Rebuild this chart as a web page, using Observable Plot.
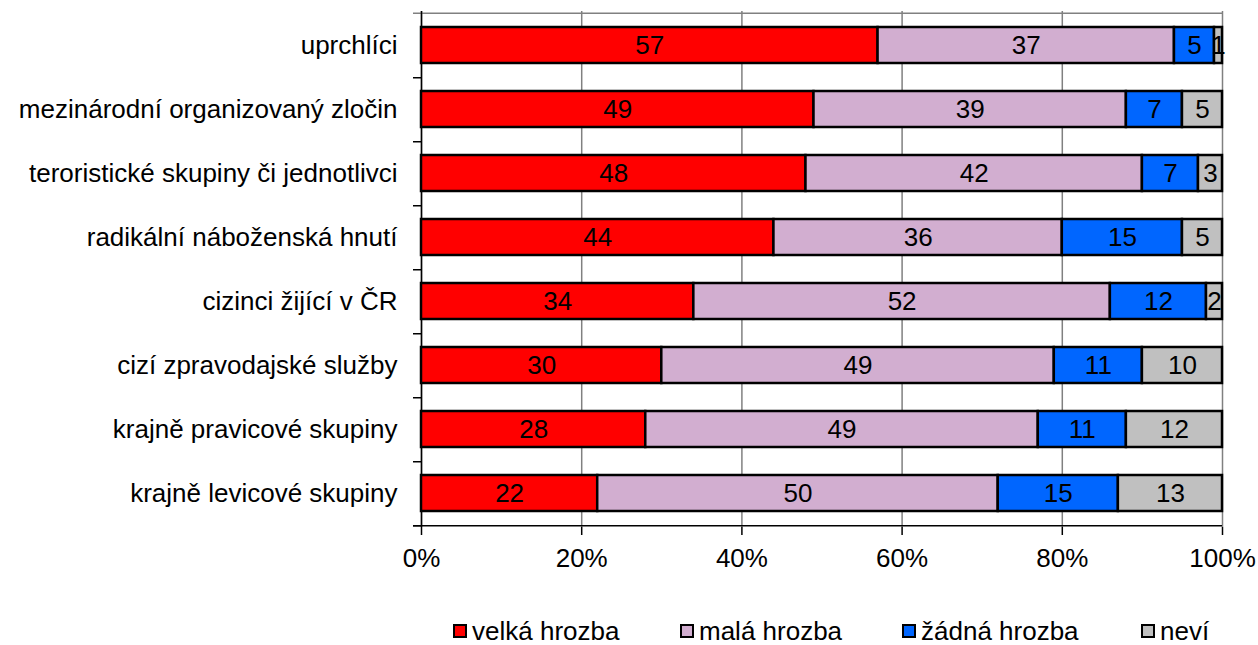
<!DOCTYPE html>
<html><head><meta charset="utf-8">
<script src="https://cdn.jsdelivr.net/npm/d3@7"></script>
<script src="https://cdn.jsdelivr.net/npm/@observablehq/plot@0.6"></script>
<style>
body{margin:0;background:#fff;font-family:"Liberation Sans",Arial,sans-serif;}
#legend{position:relative;height:40px;font-size:26px;color:#000;margin-top:11px;}
#legend .item{display:flex;align-items:center;position:absolute;top:0;height:40px;}
#legend .sw{width:10px;height:10px;border:2px solid #000;margin-right:5px;box-sizing:content-box;}
</style></head>
<body>
<div id="chart"></div>
<div id="legend"></div>
<script>
const categories = ["uprchlíci","mezinárodní organizovaný zločin","teroristické skupiny či jednotlivci","radikální náboženská hnutí","cizinci žijící v ČR","cizí zpravodajské služby","krajně pravicové skupiny","krajně levicové skupiny"];
const series = ["velká hrozba","malá hrozba","žádná hrozba","neví"];
const velka = [57,49,48,44,34,30,28,22];
const mala = [37,39,42,36,52,49,49,50];
const zadna = [5,7,7,15,12,11,11,15];
const nevi = [1,5,3,5,2,10,12,13];
const colors = ["#FF0000","#D2AED0","#0066FF","#C0C0C0"];
const xTicks = [0,20,40,60,80,100];

const cols = [velka, mala, zadna, nevi];
const data = [];
categories.forEach((c,i)=>series.forEach((s,j)=>data.push({cat:c, series:s, value:cols[j][i]})));

const W = 1258, H = 600, mT = 11, mB = 73;
const step = (H - mT - mB) / categories.length;
const FS = 26;

const stackOpts = {x:"value", y:"cat", order: null};
const plot = Plot.plot({
  width: W, height: H,
  marginLeft: 421, marginRight: 36, marginTop: mT, marginBottom: mB,
  style: {fontFamily: '"Liberation Sans", Arial, sans-serif', fontSize: FS+"px", color:"#000", background:"#fff", overflow:"visible"},
  x: {domain:[0,100], axis: null},
  y: {domain: categories, paddingInner: 0.44, paddingOuter: 0.22, axis: null},
  color: {domain: series, range: colors},
  marks: [
    Plot.ruleX(xTicks, {x: d=>d, stroke:"#808080", strokeWidth:1.5}),
    Plot.ruleY([categories[0]], {y: d=>d, x1: -1, x2: 100, dy: -step/2, stroke:"#808080", strokeWidth:1.5}),
    Plot.ruleY(categories, {y: d=>d, x1: -1, x2: 0, dy: step/2, stroke:"#000", strokeWidth:1.5}),
    Plot.ruleX([0], {stroke:"#000", strokeWidth:1.5}),
    Plot.axisY({tickSize: 0, tickPadding: 24, fontSize: FS, label: null}),
    Plot.barX(data, Plot.stackX({...stackOpts, fill: "series", stroke:"#000", strokeWidth:2.5})),
    Plot.text(data, Plot.stackX({...stackOpts, text: d=>String(d.value), fill:"#000", fontSize:FS})),
    Plot.axisX({ticks: xTicks, tickFormat: d=>d+"%", tickSize: 8, tickPadding: 13, fontSize: FS, label:null, strokeWidth:1.5}),
    Plot.ruleY([categories[categories.length-1]], {y: d=>d, x1: -1, x2: 100, dy: step/2, stroke:"#000", strokeWidth:1.5})
  ]
});
document.getElementById("chart").appendChild(plot);

const lg = document.getElementById("legend");
const lx = [453, 680, 902, 1141];
series.forEach((s,i)=>{
  const it = document.createElement("div"); it.className="item"; it.style.left = lx[i]+"px";
  const sw = document.createElement("span"); sw.className="sw"; sw.style.background = colors[i];
  const t = document.createElement("span"); t.textContent = s;
  it.appendChild(sw); it.appendChild(t); lg.appendChild(it);
});
</script>
</body></html>
